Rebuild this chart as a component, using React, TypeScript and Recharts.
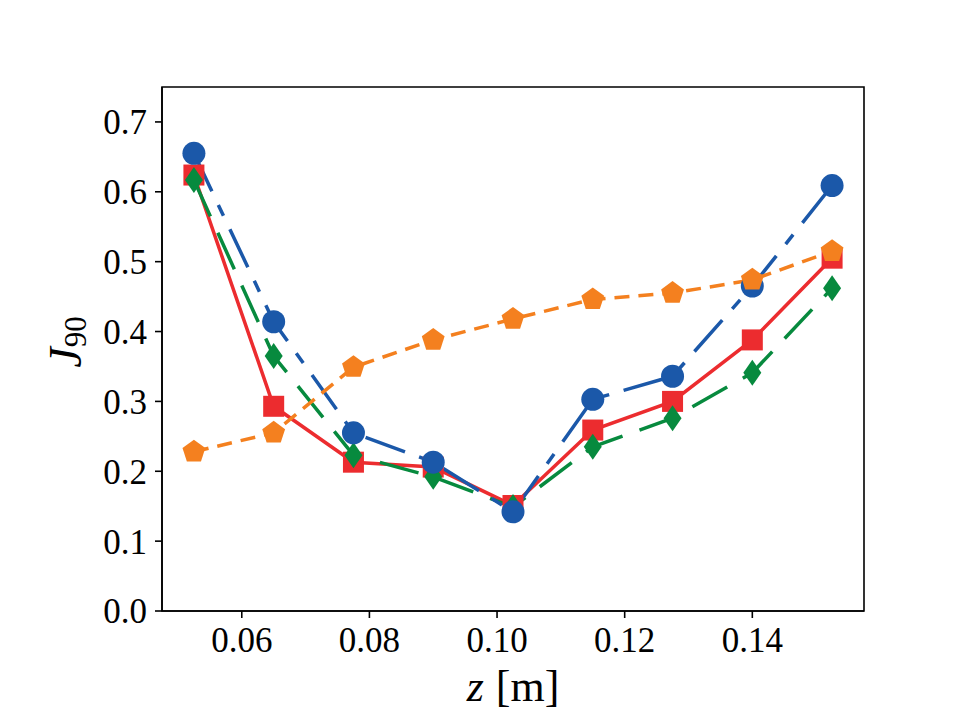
import { LineChart, Line, XAxis, YAxis, ReferenceArea } from "recharts";

// J90 against axial position z, four configurations
const zPos = [0.0525, 0.065, 0.0775, 0.09, 0.1025, 0.115, 0.1275, 0.14, 0.1525];
const redSquares = [0.624, 0.293, 0.213, 0.206, 0.151, 0.259, 0.3, 0.388, 0.505];
const greenDiamonds = [0.617, 0.365, 0.223, 0.192, 0.149, 0.235, 0.276, 0.341, 0.462];
const blueCircles = [0.655, 0.414, 0.255, 0.213, 0.142, 0.303, 0.336, 0.465, 0.609];
const orangePentagons = [0.228, 0.255, 0.349, 0.388, 0.418, 0.446, 0.455, 0.474, 0.515];

const xTicks = [0.06, 0.08, 0.1, 0.12, 0.14];
const yTicks = [0, 0.1, 0.2, 0.3, 0.4, 0.5, 0.6, 0.7];
const xDomain = [0.0475, 0.1575];
const yDomain = [0, 0.75];

const RED = "#ec2c2f";
const GREEN = "#078a3e";
const BLUE = "#1b58a9";
const ORANGE = "#f4801f";

const rows = zPos.map((z, i) => ({
  z,
  red: redSquares[i],
  green: greenDiamonds[i],
  blue: blueCircles[i],
  orange: orangePentagons[i],
}));

const FONT = "'Liberation Serif', 'DejaVu Serif', serif";
const tickStyle = { fontSize: 35, fill: "#000", fontFamily: FONT };

const circleDot = (p: any) => (
  <circle key={`c${p.index}`} cx={p.cx} cy={p.cy} r={11.5} fill={BLUE} />
);
const squareDot = (p: any) => (
  <rect key={`s${p.index}`} x={p.cx - 10.5} y={p.cy - 10.5} width={21} height={21} fill={RED} />
);
const diamondDot = (p: any) => (
  <polygon
    key={`d${p.index}`}
    points={`${p.cx},${p.cy - 13} ${p.cx + 9},${p.cy} ${p.cx},${p.cy + 13} ${p.cx - 9},${p.cy}`}
    fill={GREEN}
  />
);
const pentagonDot = (p: any) => {
  const R = 12;
  const pts = [0, 1, 2, 3, 4]
    .map((k) => {
      const a = ((-90 + 72 * k) * Math.PI) / 180;
      return `${p.cx + R * Math.cos(a)},${p.cy + R * Math.sin(a)}`;
    })
    .join(" ");
  return <polygon key={`p${p.index}`} points={pts} fill={ORANGE} />;
};

const XTitle = (props: any) => {
  const { x, y, width } = props.viewBox;
  return (
    <text x={x + width / 2} y={y + 90} textAnchor="middle" fontSize={44} fontFamily={FONT} fill="#000">
      <tspan fontStyle="italic">z</tspan>
      <tspan dx={12}>[m]</tspan>
    </text>
  );
};

const YTitle = (props: any) => {
  const { y, height } = props.viewBox;
  const cx = 81;
  const cy = y + height / 2 - 7;
  return (
    <text
      x={cx}
      y={cy}
      transform={`rotate(-90, ${cx}, ${cy})`}
      textAnchor="middle"
      fontSize={46}
      fontFamily={FONT}
      fill="#000"
    >
      <tspan fontStyle="italic">J</tspan>
      <tspan fontSize={31} dy={5}>90</tspan>
    </text>
  );
};

export default function App() {
  const axisLine = { stroke: "#000", strokeWidth: 1.6 };
  return (
    <div style={{ position: "absolute", left: 0, top: 0, width: 960, height: 720, background: "#fff" }}>
      <LineChart width={960} height={720} data={rows} margin={{ top: 87, right: 96, bottom: 49, left: 62 }}>
        <XAxis
          dataKey="z"
          type="number"
          domain={xDomain}
          ticks={xTicks}
          allowDataOverflow
          height={60}
          tickSize={7}
          tickMargin={9}
          axisLine={axisLine}
          tickLine={axisLine}
          tick={tickStyle}
          tickFormatter={(v: number) => v.toFixed(2)}
          label={<XTitle />}
        />
        <YAxis
          type="number"
          domain={yDomain}
          ticks={yTicks}
          allowDataOverflow
          width={100}
          tickSize={7}
          tickMargin={8}
          axisLine={axisLine}
          tickLine={axisLine}
          tick={tickStyle}
          tickFormatter={(v: number) => v.toFixed(1)}
          label={<YTitle />}
        />
        {/* box frame around the plotting area */}
        <ReferenceArea
          x1={xDomain[0]}
          x2={xDomain[1]}
          y1={yDomain[0]}
          y2={yDomain[1]}
          fill="none"
          fillOpacity={0}
          stroke="#000"
          strokeWidth={1.6}
          ifOverflow="visible"
        />
        <Line
          dataKey="red"
          stroke={RED}
          strokeWidth={3.5}
          dot={squareDot}
          activeDot={false}
          isAnimationActive={false}
        />
        <Line
          dataKey="green"
          stroke={GREEN}
          strokeWidth={3.5}
          strokeDasharray="40 18"
          dot={diamondDot}
          activeDot={false}
          isAnimationActive={false}
        />
        <Line
          dataKey="blue"
          stroke={BLUE}
          strokeWidth={3.5}
          strokeDasharray="42 15 12 15"
          dot={circleDot}
          activeDot={false}
          isAnimationActive={false}
        />
        <Line
          dataKey="orange"
          stroke={ORANGE}
          strokeWidth={3.5}
          strokeDasharray="15 9"
          dot={pentagonDot}
          activeDot={false}
          isAnimationActive={false}
        />
      </LineChart>
    </div>
  );
}
